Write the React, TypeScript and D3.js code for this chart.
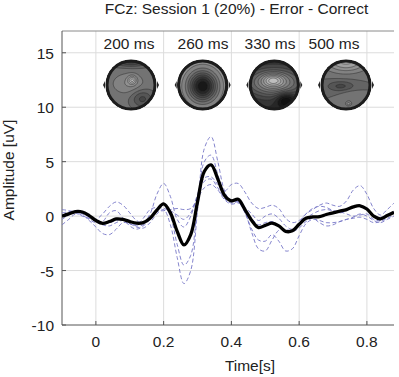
import React from 'react';
import * as d3 from 'd3';

// sample times (s) of the averaged epochs
const TIMES = [
  -0.1, -0.08, -0.06, -0.04, -0.02, 0.0, 0.02, 0.04, 0.06, 0.08,
  0.1, 0.12, 0.14, 0.16, 0.18, 0.2, 0.22, 0.24, 0.26, 0.28,
  0.3, 0.32, 0.34, 0.36, 0.38, 0.4, 0.42, 0.44, 0.46, 0.48,
  0.5, 0.52, 0.54, 0.56, 0.58, 0.6, 0.62, 0.64, 0.66, 0.68,
  0.7, 0.72, 0.74, 0.76, 0.78, 0.8, 0.82, 0.84, 0.86, 0.88,
];

// grand average difference wave (Error - Correct), uV
const GRAND_MEAN = [
  0.0, 0.2, 0.42, 0.38, 0.05, -0.4, -0.67, -0.5, -0.26, -0.3,
  -0.5, -0.65, -0.6, -0.2, 0.55, 1.12, 0.3, -1.4, -2.65, -1.7,
  1.3, 4.1, 4.7, 3.4, 1.9, 1.4, 1.55, 0.6, -0.4, -1.05,
  -0.85, -0.65, -0.9, -1.4, -1.35, -0.75, -0.2, -0.08, -0.05, 0.15,
  0.3, 0.45, 0.6, 0.85, 0.95, 0.65, 0.0, -0.25, 0.05, 0.35,
];

// single-subject difference waves
const SUBJ_1 = [
  -0.8, -0.3, 0.2, 0.1, -0.4, -1.0, -1.6, -1.7, -1.2, -0.6,
  -0.7, -1.0, -1.1, -0.6, 0.2, 0.6, -0.8, -3.8, -6.2, -5.0,
  0.5, 6.2, 7.3, 5.0, 2.3, 1.3, 1.3, 0.3, -1.2, -2.2,
  -2.3, -1.7, -2.3, -3.2, -3.0, -1.8, -0.7, -0.3, -0.4, -0.6,
  -0.6, -0.5, -0.3, -0.1, 0.2, 0.0, -0.4, -0.6, -0.3, 0.0,
];
const SUBJ_2 = [
  0.3, 0.4, 0.5, 0.2, -0.3, -0.6, -0.5, 0.3, 0.5, -0.2,
  -0.9, -1.2, -0.9, -0.3, 0.6, 1.0, 0.0, -2.6, -4.5, -3.6,
  0.9, 5.0, 5.6, 3.8, 2.0, 1.5, 1.5, 0.4, -1.5, -3.0,
  -3.2, -2.2, -1.3, -1.2, -1.4, -1.1, -0.5, -0.2, -0.6, -0.9,
  -0.8, -0.5, -0.3, -0.2, -0.1, -0.3, -0.6, -0.5, -0.2, 0.1,
];
const SUBJ_3 = [
  0.6, 0.5, 0.3, 0.0, -0.2, -0.3, 0.2, 0.9, 1.3, 1.0,
  0.3, -0.4, -0.6, 0.2, 2.0, 3.0, 1.8, -0.3, -1.0, 0.0,
  2.0, 3.5, 3.6, 2.9, 2.3, 2.9, 3.0, 2.2, 1.2, 0.7,
  0.8, 1.0, 0.7, -0.2, -0.6, -0.4, 0.2, 0.6, 1.0, 1.2,
  1.0, 0.9, 1.4, 2.4, 2.8, 2.0, 0.7, 0.1, 0.6, 1.2,
];
const SUBJ_4 = [
  -0.3, 0.1, 0.4, 0.3, -0.1, -0.5, -0.8, -0.9, -0.6, -0.4,
  -0.6, -0.8, -0.2, 0.6, 0.8, 0.7, 0.5, 0.1, -0.3, 0.3,
  1.8, 3.2, 3.4, 2.6, 1.6, 1.2, 1.3, 0.6, -0.2, -0.8,
  -0.6, -0.5, -0.9, -1.4, -1.3, -0.6, 0.2, 0.7, 0.9, 0.8,
  0.5, 0.3, 0.5, 0.8, 0.9, 0.6, 0.1, -0.1, 0.1, 0.4,
];
const SUBJ_5 = [
  0.1, 0.3, 0.5, 0.4, 0.1, -0.3, -0.6, -0.6, -0.4, -0.3,
  -0.7, -0.9, -0.8, -0.2, 0.4, 0.5, 0.6, 0.7, 0.6, 0.7,
  1.6, 2.6, 2.9, 2.4, 1.5, 1.1, 1.2, 0.8, 0.2, -0.4,
  0.0, 0.2, -0.2, -0.9, -1.2, -0.7, -0.2, 0.2, 0.5, 0.6,
  0.5, 0.4, 0.2, 0.0, 0.1, 0.2, -0.3, -0.4, 0.0, 0.4,
];
const SUBJECTS = [SUBJ_1, SUBJ_2, SUBJ_3, SUBJ_4, SUBJ_5];

const X_TICKS = [0, 0.2, 0.4, 0.6, 0.8];
const Y_TICKS = [-10, -5, 0, 5, 10, 15];

// scalp maps: latency label and the blobs of the potential field (unit head coords, y down)
type Blob = { x: number; y: number; a: number; sx: number; sy: number };
const MAP_LABELS = ['200 ms', '260 ms', '330 ms', '500 ms'];
const MAP_BASE = [-0.05, 0.35, -0.75, -0.1];
const MAP_BLOBS: Blob[][] = [
  [
    { x: 0.05, y: -0.2, a: 0.55, sx: 0.12, sy: 0.12 },
    { x: -0.1, y: -0.05, a: 0.25, sx: 0.45, sy: 0.3 },
    { x: 0.45, y: 0.55, a: -0.4, sx: 0.3, sy: 0.25 },
    { x: 0.0, y: -0.95, a: -0.55, sx: 0.5, sy: 0.15 },
  ],
  [{ x: 0.0, y: 0.05, a: -1.35, sx: 0.4, sy: 0.42 }],
  [
    { x: 0.0, y: -0.1, a: 1.05, sx: 0.8, sy: 0.4 },
    { x: -0.05, y: -0.2, a: 0.5, sx: 0.28, sy: 0.17 },
    { x: 0.45, y: 0.6, a: -0.6, sx: 0.25, sy: 0.2 },
  ],
  [
    { x: 0.0, y: -0.95, a: 0.65, sx: 0.6, sy: 0.3 },
    { x: -0.2, y: 0.05, a: -0.35, sx: 0.4, sy: 0.15 },
    { x: 0.1, y: 0.75, a: 0.35, sx: 0.08, sy: 0.06 },
    { x: 0.2, y: 0.45, a: 0.15, sx: 0.3, sy: 0.2 },
  ],
];

const FONT = '"Liberation Sans", Arial, Helvetica, sans-serif';
const W = 399;
const H = 377;
const left = 62;
const right = 394;
const top = 31;
const bottom = 325;

const x = d3.scaleLinear().domain([-0.1, 0.88]).range([left, right]);
const y = d3.scaleLinear().domain([-10, 17]).range([bottom, top]);

const mapX = d3.scalePoint<string>().domain(MAP_LABELS).range([131, 346]);
const labelX = d3.scaleOrdinal<string, number>().domain(MAP_LABELS).range([129, 203, 270, 334]);
const MAP_Y = 85;
const MAP_R = 25;
const N = 48;

const gray = d3.scaleLinear<string>().domain([-1, 0, 1]).range(['#111111', '#767676', '#dadada']).clamp(true);
const levels = d3.range(-1.0, 1.01, 0.15);

function field(base: number, blobs: Blob[]) {
  const v = new Array(N * N);
  for (let j = 0; j < N; j++) {
    for (let i = 0; i < N; i++) {
      const u = ((i + 0.5) / N) * 2 - 1;
      const w = ((j + 0.5) / N) * 2 - 1;
      let s = base;
      for (const b of blobs) {
        s += b.a * Math.exp(-((u - b.x) ** 2) / (2 * b.sx * b.sx) - ((w - b.y) ** 2) / (2 * b.sy * b.sy));
      }
      v[j * N + i] = s;
    }
  }
  return v;
}

const line = d3
  .line<number>()
  .x((_, i) => x(TIMES[i]))
  .y((d) => y(d))
  .curve(d3.curveCatmullRom.alpha(0.5));

function TopoMap({ label, idx }: { label: string; idx: number }) {
  const cx = mapX(label) as number;
  const values = field(MAP_BASE[idx], MAP_BLOBS[idx]);
  const bands = d3.contours().size([N, N]).thresholds(levels)(values);
  const proj = d3.geoIdentity().scale((2 * MAP_R) / N).translate([cx - MAP_R, MAP_Y - MAP_R]);
  const path = d3.geoPath(proj as any);
  const id = `head-${idx}`;
  return (
    <g>
      <clipPath id={id}>
        <circle cx={cx} cy={MAP_Y} r={MAP_R} />
      </clipPath>
      <g clipPath={`url(#${id})`}>
        <circle cx={cx} cy={MAP_Y} r={MAP_R} fill={gray(-1.1)} />
        {bands.map((b, k) => (
          <path key={k} d={path(b as any) || ''} fill={gray(b.value + 0.07)} stroke="#262626" strokeWidth={0.6} strokeOpacity={0.75} />
        ))}
      </g>
      <circle cx={cx} cy={MAP_Y} r={MAP_R - 1} fill="none" stroke="#1c1c1c" strokeWidth={3} />
      <path d={`M${cx - MAP_R - 1},${MAP_Y - 4}l-2,4l2,4Z M${cx + MAP_R + 1},${MAP_Y - 4}l2,4l-2,4Z`} fill="#222" />
    </g>
  );
}

export default function App() {
  return (
    <svg width={W} height={H} style={{ position: 'absolute', left: 0, top: 0 }} fontFamily={FONT}>
      <rect width={W} height={H} fill="#fff" />
      <defs>
        <clipPath id="plot">
          <rect x={left} y={top} width={right - left} height={bottom - top} />
        </clipPath>
      </defs>

      {/* grid */}
      {X_TICKS.map((t) => (
        <line key={`gx${t}`} x1={x(t)} x2={x(t)} y1={top} y2={bottom} stroke="#dcdcdc" strokeWidth={1} />
      ))}
      {Y_TICKS.filter((v) => v > -10).map((v) => (
        <line key={`gy${v}`} x1={left} x2={right} y1={y(v)} y2={y(v)} stroke="#dcdcdc" strokeWidth={1} />
      ))}

      {/* axes box */}
      <line x1={left} x2={right} y1={top} y2={top} stroke="#8a8a8a" strokeWidth={1} />
      <line x1={left} x2={left} y1={top} y2={bottom} stroke="#555" strokeWidth={1} />
      <line x1={left} x2={right} y1={bottom} y2={bottom} stroke="#555" strokeWidth={1} />
      {X_TICKS.map((t) => (
        <line key={`tx${t}`} x1={x(t)} x2={x(t)} y1={bottom} y2={bottom - 4} stroke="#555" />
      ))}
      {Y_TICKS.map((v) => (
        <line key={`ty${v}`} x1={left} x2={left + 4} y1={y(v)} y2={y(v)} stroke="#555" />
      ))}

      {/* scalp maps */}
      {MAP_LABELS.map((l, i) => (
        <g key={l}>
          <text x={labelX(l)} y={48.5} textAnchor="middle" fontSize={15.5} fill="#222">
            {l}
          </text>
          <TopoMap label={l} idx={i} />
        </g>
      ))}

      {/* waveforms */}
      <g clipPath="url(#plot)" fill="none">
        {SUBJECTS.map((s, i) => (
          <path key={i} d={line(s) || ''} stroke="#7070c4" strokeWidth={1} strokeDasharray="4 2.5" strokeOpacity={0.85} />
        ))}
        <path d={line(GRAND_MEAN) || ''} stroke="#000" strokeWidth={3.3} strokeLinejoin="round" />
      </g>

      {/* tick labels */}
      {Y_TICKS.map((v) => (
        <text key={`ly${v}`} x={54} y={y(v) + 6} textAnchor="end" fontSize={15.5} fill="#222">
          {v}
        </text>
      ))}
      {X_TICKS.map((t) => (
        <text key={`lx${t}`} x={x(t)} y={346.5} textAnchor="middle" fontSize={15.5} fill="#222">
          {t}
        </text>
      ))}

      <text x={250} y={370.5} textAnchor="middle" fontSize={15.5} fill="#222">
        Time[s]
      </text>
      <text transform="translate(13.5,170) rotate(-90)" textAnchor="middle" fontSize={15.5} fill="#222">
        Amplitude [uV]
      </text>
      <text x={236.5} y={13.5} textAnchor="middle" fontSize={15.5} fill="#222">
        FCz: Session 1 (20%) - Error - Correct
      </text>
    </svg>
  );
}
